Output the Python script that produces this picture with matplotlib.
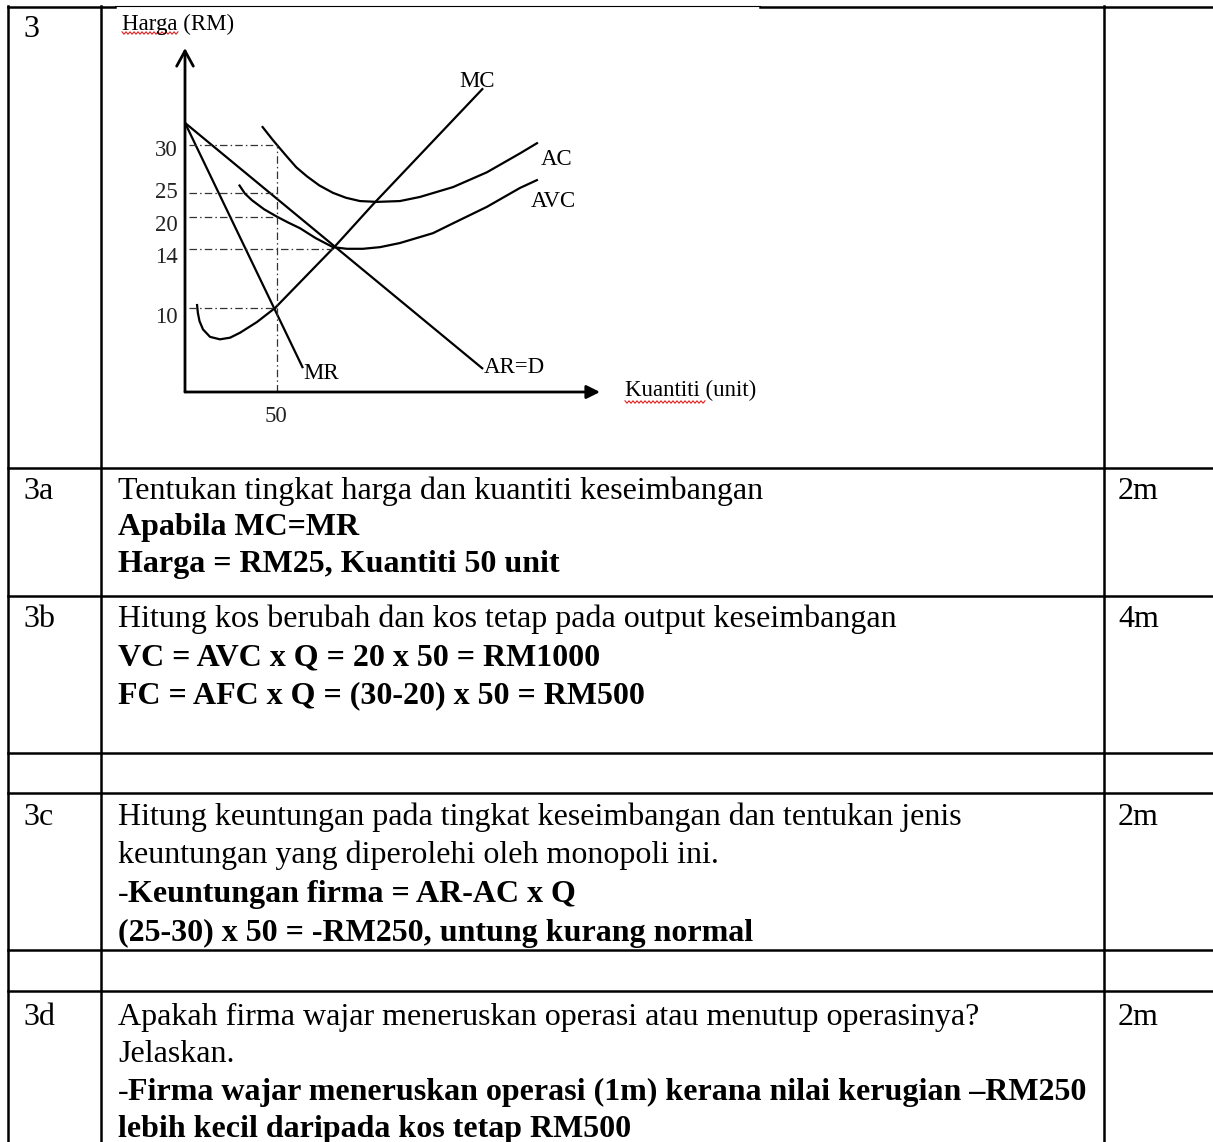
import numpy as np
import matplotlib.pyplot as plt

plt.rcParams['font.family'] = ['Liberation Serif', 'DejaVu Serif']

W, H = 1213, 1142

# --- diagram data (quantity in units, price on the drawing's scale) ---
ar_q = [0, 162.0]
ar_p = [32.7, 2.8]
mr_q = [0, 64.1]
mr_p = [32.7, 2.9]
mc_q = [6.5, 7.0, 7.9, 9.8, 13.6, 19.0, 24.5, 29.9, 39.1, 48.9, 81.5, 102.2, 162.0]
mc_p = [10.7, 9.6, 8.6, 7.6, 6.7, 6.4, 6.6, 7.2, 8.5, 10.2, 17.7, 22.8, 36.9]
ac_q = [41.8, 47.8, 55.4, 60.5, 66.3, 73.0, 80.4, 87.5, 95.1, 104.3, 116.8, 127.7, 145.7, 164.1, 182.1, 191.8]
ac_p = [32.3, 30.6, 28.6, 27.3, 26.2, 25.1, 24.2, 23.6, 23.2, 23.1, 23.2, 23.7, 24.9, 26.7, 29.0, 30.3]
avc_q = [29.3, 32.6, 36.4, 43.0, 50.0, 56.0, 62.5, 71.0, 80.4, 88.0, 96.7, 106.0, 116.8, 134.8, 145.7, 164.1, 182.1, 191.8]
avc_p = [25.2, 24.1, 23.3, 22.2, 21.3, 20.6, 19.9, 18.7, 17.6, 17.4, 17.4, 17.6, 18.1, 19.3, 20.5, 22.5, 24.8, 25.8]

price_labels = ['30', '25', '20', '14', '10']
price_lines = [30.0, 24.2, 21.3, 17.4, 10.2]     # where the dashed guides sit
price_text = [29.4, 24.2, 20.2, 16.3, 9.1]       # where the numbers sit
guide_end = [50, 50, 50, 80.4, 50]
q_eq = 50

# --- answer table ---
col_lines = [8, 101, 1104]
row_lines = [468, 596, 753, 793, 950, 991]

rows = [
    ('3a', '2m', 499, 36.5, [
        ('', 'Tentukan tingkat harga dan kuantiti keseimbangan', False),
        ('', 'Apabila MC=MR', True),
        ('', 'Harga = RM25, Kuantiti 50 unit', True)]),
    ('3b', '4m', 627, 38, [
        ('', 'Hitung kos berubah dan kos tetap pada output keseimbangan', False),
        ('', 'VC = AVC x Q = 20 x 50 = RM1000', True),
        ('', 'FC = AFC x Q = (30-20) x 50 = RM500', True)]),
    ('3c', '2m', 825, 38.5, [
        ('', 'Hitung keuntungan pada tingkat keseimbangan dan tentukan jenis', False),
        ('', 'keuntungan yang diperolehi oleh monopoli ini.', False),
        ('-', 'Keuntungan firma = AR-AC x Q', True),
        ('', '(25-30) x 50 = -RM250, untung kurang normal', True)]),
    ('3d', '2m', 1025, 37.3, [
        ('', 'Apakah firma wajar meneruskan operasi atau menutup operasinya?', False),
        ('', 'Jelaskan.', False),
        ('-', 'Firma wajar meneruskan operasi (1m) kerana nilai kerugian \u2013RM250', True),
        ('', 'lebih kecil daripada kos tetap RM500', True)]),
]

fig = plt.figure(figsize=(W / 100, H / 100), dpi=100)
ax = fig.add_axes([0, 0, 1, 1])
ax.set_xlim(0, W)
ax.set_ylim(H, 0)
ax.axis('off')

lw = 1.8
ax.plot([8, 115], [7, 7], color='black', lw=lw)
ax.plot([115, 760], [6, 6], color='black', lw=0.8)
ax.plot([760, W], [7, 7], color='black', lw=lw)
for x in col_lines:
    ax.plot([x, x], [6, H], color='black', lw=lw)
for y in row_lines:
    ax.plot([8, W], [y, y], color='black', lw=lw)

fs = 23
ax.text(23, 37, '3', fontsize=fs, va='baseline')
for num, mark, y0, step, lines in rows:
    ax.text(23, y0, num, fontsize=fs, va='baseline')
    ax.text(1118, y0, mark, fontsize=fs, va='baseline')
    for i, (lead, txt, bold) in enumerate(lines):
        y = y0 + i * step
        x = 118
        if lead:
            ax.text(x, y, lead, fontsize=fs, va='baseline')
            x += 10.5
        ax.text(x, y, txt, fontsize=fs, va='baseline',
                fontweight='bold' if bold else 'normal')


def wavy(x0, x1, y):
    xs = np.arange(x0, x1 + 0.1, 2)
    ys = y + np.where(np.arange(len(xs)) % 2 == 0, -1.2, 1.2)
    ax.plot(xs, ys, color='#e02020', lw=0.8)


# --- diagram ---
sx, sy = 1.84, 8.23
dx = fig.add_axes([185 / W, 1 - 392 / H, 415 / W, 344 / H])
dx.set_xlim(0, 415 / sx)
dx.set_ylim(0, 344 / sy)
dx.axis('off')

dfs = 16.5
curve = dict(color='black', lw=1.6, solid_capstyle='butt', solid_joinstyle='round')
dx.plot(ar_q, ar_p, **curve)
dx.plot(mr_q, mr_p, **curve)
dx.plot(mc_q, mc_p, **curve)
dx.plot(ac_q, ac_p, **curve)
dx.plot(avc_q, avc_p, **curve)

guide = dict(color='#333333', lw=0.9, ls=(0, (6, 2.5, 1.2, 2.5)))
for lvl, end in zip(price_lines, guide_end):
    dx.plot([2.2, end], [lvl, lvl], **guide)
dx.plot([q_eq, q_eq], [0, price_lines[0]], **guide)

for lab, yv in zip(price_labels, price_text):
    dx.text(-3.8, yv, lab, fontsize=dfs, ha='right', va='center', color='#222222')
dx.text(49.5, -3.0, '50', fontsize=dfs, ha='center', va='center', color='#222222')

dx.annotate('', xy=(0, 344 / sy), xytext=(0, 0), annotation_clip=False,
            arrowprops=dict(arrowstyle='->,head_length=0.55,head_width=0.3',
                            mutation_scale=20, lw=2, color='black',
                            shrinkA=0, shrinkB=0))
dx.annotate('', xy=(415 / sx, 0), xytext=(0, 0), annotation_clip=False,
            arrowprops=dict(arrowstyle='-|>,head_length=0.4,head_width=0.2',
                            mutation_scale=20, lw=2, color='black',
                            shrinkA=0, shrinkB=0))

dx.text(158.7, 37.7, 'MC', fontsize=dfs, ha='center', va='center')
dx.text(202.2, 28.2, 'AC', fontsize=dfs, ha='center', va='center')
dx.text(200.0, 23.1, 'AVC', fontsize=dfs, ha='center', va='center')
dx.text(64.5, 2.3, 'MR', fontsize=dfs, ha='left', va='center')
dx.text(162.5, 3.0, 'AR=D', fontsize=dfs, ha='left', va='center')

ax.text(122, 24, 'Harga (RM)', fontsize=dfs, va='center')
wavy(122, 178, 33)
ax.text(625, 390, 'Kuantiti (unit)', fontsize=dfs, va='center')
wavy(625, 705, 402)

fig.savefig('out.png', dpi=100)
